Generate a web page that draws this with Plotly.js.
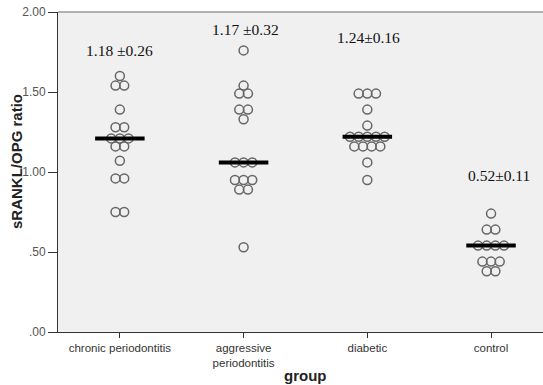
<!DOCTYPE html>
<html>
<head>
<meta charset="utf-8">
<script src="https://cdn.plot.ly/plotly-3.0.1.min.js"></script>
<style>html,body{margin:0;padding:0;background:#fff;}#chart{width:543px;height:385px;}</style>
</head>
<body>
<div id="chart"></div>
<script>
// ---- data ----
var groups = ["chronic periodontitis", "aggressive<br>periodontitis", "diabetic", "control"];
var chronic = [1.60, 1.54, 1.54, 1.39, 1.28, 1.28, 1.21, 1.21, 1.21, 1.16, 1.16, 1.07, 0.96, 0.96, 0.75, 0.75];
var aggressive = [1.76, 1.54, 1.49, 1.49, 1.39, 1.39, 1.33, 1.06, 1.06, 1.06, 0.95, 0.95, 0.95, 0.89, 0.89, 0.53];
var diabetic = [1.49, 1.49, 1.49, 1.39, 1.29, 1.22, 1.22, 1.22, 1.22, 1.22, 1.16, 1.16, 1.16, 1.16, 1.06, 0.95];
var control = [0.74, 0.64, 0.64, 0.54, 0.54, 0.54, 0.54, 0.44, 0.44, 0.44, 0.38, 0.38];
var medians = [1.21, 1.06, 1.22, 0.54];
var statLabels = ["1.18 \u00b10.26", "1.17 \u00b10.32", "1.24\u00b10.16", "0.52\u00b10.11"];
var yTickVals = [0, 0.5, 1.0, 1.5, 2.0];
var yTickText = [".00", ".50", "1.00", "1.50", "2.00"];
var xTitle = "group";
var yTitle = "sRANKL/OPG ratio";

var series = [chronic, aggressive, diabetic, control];
var dx = 0.07; // horizontal spacing between tied points (category units)

var traces = [];
series.forEach(function (vals, gi) {
  var counts = {};
  vals.forEach(function (v) { counts[v] = (counts[v] || 0) + 1; });
  var seen = {};
  var xs = [], ys = [];
  vals.forEach(function (v) {
    var k = counts[v];
    var i = seen[v] || 0;
    seen[v] = i + 1;
    xs.push(gi + (i - (k - 1) / 2) * dx);
    ys.push(v);
  });
  traces.push({
    type: "scatter", mode: "markers", x: xs, y: ys,
    marker: { symbol: "circle-open", size: 9, color: "#666", line: { width: 1.5, color: "#666" } },
    hoverinfo: "y", showlegend: false
  });
});
medians.forEach(function (m, gi) {
  traces.push({
    type: "scatter", mode: "lines", x: [gi - 0.2, gi + 0.2], y: [m, m],
    line: { color: "#000", width: 4 }, hoverinfo: "skip", showlegend: false
  });
});

var sans = "Arial, Liberation Sans, sans-serif";
var annY = [1.76, 1.89, 1.84, 0.98];
var annShift = [0, 2, 1, 8];
var annotations = statLabels.map(function (t, gi) {
  return {
    x: gi, y: annY[gi], xref: "x", yref: "y", text: t, showarrow: false, xshift: annShift[gi],
    font: { family: "Liberation Serif, Times New Roman, serif", size: 15.5, color: "#111" }
  };
});
annotations.push({
  x: 0.5, y: 0, xref: "paper", yref: "paper", xshift: 5, yshift: -43, yanchor: "middle",
  text: xTitle, showarrow: false, font: { family: sans, size: 15, color: "#222", weight: "bold" }
});
annotations.push({
  x: 0, y: 0.5, xref: "paper", yref: "paper", xshift: -42, yshift: 10, xanchor: "center", yanchor: "middle",
  textangle: -90, text: yTitle, showarrow: false, font: { family: sans, size: 15, color: "#222", weight: "bold" }
});

var layout = {
  width: 543, height: 385,
  margin: { l: 58, r: 0, t: 12, b: 53 },
  paper_bgcolor: "#ffffff",
  plot_bgcolor: "#f0f0f0",
  showlegend: false,
  xaxis: {
    range: [-0.5, 3.42], tickmode: "array", tickvals: [0, 1, 2, 3], ticktext: groups,
    showgrid: false, zeroline: false, showline: true, linecolor: "#333", linewidth: 1,
    ticks: "outside", ticklen: 5, tickcolor: "#333",
    tickfont: { family: sans, size: 11.5, color: "#333" },
    fixedrange: true
  },
  yaxis: {
    range: [0, 2], tickmode: "array", tickvals: yTickVals, ticktext: yTickText,
    showgrid: false, zeroline: false, showline: true, linecolor: "#333", linewidth: 1,
    ticks: "outside", ticklen: 9, tickcolor: "#333",
    tickfont: { family: sans, size: 12, color: "#555" },
    fixedrange: true
  },
  shapes: [{
    type: "line", xref: "paper", yref: "paper", x0: 0, x1: 1, y0: 1, y1: 1,
    line: { color: "#999", width: 1.5 }
  }],
  annotations: annotations
};

Plotly.newPlot("chart", traces, layout, { displayModeBar: false, staticPlot: true });
</script>
</body>
</html>
